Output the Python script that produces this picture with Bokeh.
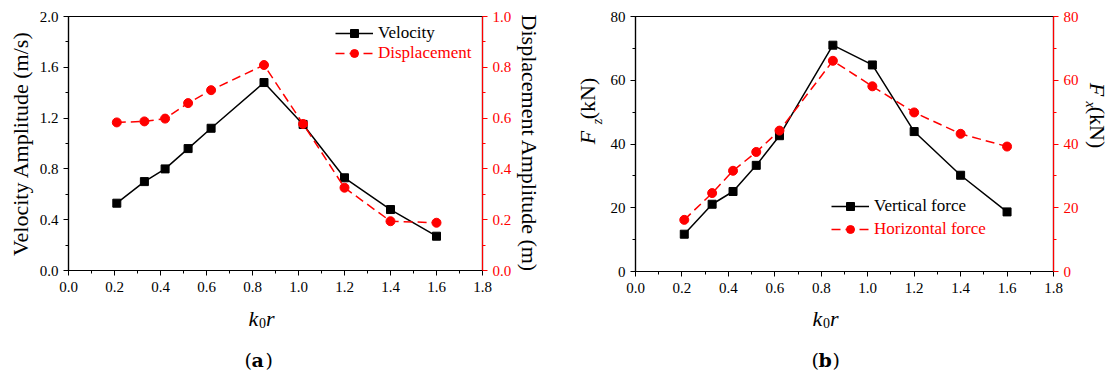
from bokeh.plotting import figure
from bokeh.models import (Range1d, LinearAxis, FixedTicker, NumeralTickFormatter,
                          Label, Legend, LegendItem)
from bokeh.layouts import row, column
from bokeh.embed import file_html
from bokeh.resources import INLINE
import math

# ---------------- data ----------------
k0r = [0.21, 0.33, 0.42, 0.52, 0.62, 0.85, 1.02, 1.20, 1.40, 1.60]
velocity = [0.53, 0.70, 0.80, 0.96, 1.12, 1.48, 1.15, 0.73, 0.48, 0.27]
displacement = [0.583, 0.587, 0.598, 0.659, 0.710, 0.809, 0.577, 0.326, 0.194, 0.188]
vertical_force = [11.7, 21.1, 25.1, 33.3, 42.6, 71.0, 64.8, 43.9, 30.2, 18.7]
horizontal_force = [16.2, 24.6, 31.6, 37.5, 44.2, 66.1, 58.1, 49.9, 43.2, 39.2]

x_ticks = [0.0, 0.2, 0.4, 0.6, 0.8, 1.0, 1.2, 1.4, 1.6, 1.8]
x_minor = [0.1, 0.3, 0.5, 0.7, 0.9, 1.1, 1.3, 1.5, 1.7]
vel_ticks = [0.0, 0.4, 0.8, 1.2, 1.6, 2.0]
vel_minor = [0.2, 0.6, 1.0, 1.4, 1.8]
disp_ticks = [0.0, 0.2, 0.4, 0.6, 0.8, 1.0]
disp_minor = [0.1, 0.3, 0.5, 0.7, 0.9]
force_ticks = [0, 20, 40, 60, 80]
force_minor = [10, 30, 50, 70]

FONT = "Liberation Serif"
CAP_FONT = "DejaVu Serif"
RED = "#ff0000"
TOP_H = 299


def style_axis(ax, color, ticks, minor, fmt):
    ax.ticker = FixedTicker(ticks=ticks, minor_ticks=minor)
    ax.formatter = NumeralTickFormatter(format=fmt)
    ax.axis_line_color = color
    ax.axis_line_width = 1.2
    ax.major_tick_line_color = color
    ax.minor_tick_line_color = color
    ax.major_tick_out = 5
    ax.major_tick_in = 0
    ax.minor_tick_out = 3
    ax.minor_tick_in = 0
    ax.major_label_text_color = color
    ax.major_label_text_font = FONT
    ax.major_label_text_font_size = "15px"
    ax.major_label_standoff = 5
    ax.axis_label_text_font = FONT
    ax.axis_label_text_font_size = "22px"
    ax.axis_label_text_font_style = "normal"
    ax.axis_label_text_color = "black"


def make_fig(fw, fh, bl, br, bt, bb, y_end, y_ticks, y_minor, y_fmt,
             r_end, r_ticks, r_minor, r_fmt):
    p = figure(frame_width=fw, frame_height=fh,
               min_border_left=bl, min_border_right=br,
               min_border_top=bt, min_border_bottom=bb,
               x_range=Range1d(0, 1.8), y_range=Range1d(0, y_end),
               output_backend="svg", toolbar_location=None, title=None)
    p.extra_y_ranges = {"right": Range1d(0, r_end)}
    p.grid.visible = False
    p.outline_line_color = "black"
    p.outline_line_width = 1.2
    p.background_fill_color = "white"
    p.border_fill_color = "white"
    style_axis(p.xaxis[0], "black", x_ticks, x_minor, "0.0")
    p.xaxis[0].major_label_standoff = 6
    style_axis(p.yaxis[0], "black", y_ticks, y_minor, y_fmt)
    rax = LinearAxis(y_range_name="right")
    style_axis(rax, RED, r_ticks, r_minor, r_fmt)
    p.add_layout(rax, "right")
    return p


def text_fig(w, h):
    f = figure(width=w, height=h, min_border=0, x_axis_location=None,
               y_axis_location=None, output_backend="svg",
               toolbar_location=None, title=None)
    f.grid.visible = False
    f.outline_line_color = None
    f.background_fill_color = "white"
    f.border_fill_color = "white"
    return f


def lab(p, x, y, text, size="22px", style="normal", angle=0.0, font=FONT,
        color="black", align="center", baseline="middle"):
    p.add_layout(Label(x=x, y=y, x_units="screen", y_units="screen", text=text,
                       angle=angle, text_font=font, text_font_size=size,
                       text_font_style=style, text_color=color,
                       text_align=align, text_baseline=baseline))


def legend(p, label, renderers, color, x, y):
    leg = Legend(items=[LegendItem(label=label, renderers=renderers)],
                 location=(x, y))
    leg.label_text_font = FONT
    leg.label_text_font_size = "17px"
    leg.label_text_color = color
    leg.glyph_width = 38
    leg.glyph_height = 20
    leg.label_height = 20
    leg.label_standoff = 5
    leg.padding = 0
    leg.margin = 0
    leg.spacing = 0
    leg.border_line_alpha = 0
    leg.background_fill_alpha = 0
    p.add_layout(leg)


# ---------------- panel (a) ----------------
p1 = make_fig(414, 254, 68, 73, 16, 29, 2.0, vel_ticks, vel_minor, "0.0",
              1.0, disp_ticks, disp_minor, "0.0")
p1.yaxis[0].axis_label = "Velocity Amplitude (m/s)"
p1.yaxis[0].axis_label_standoff = 4
p1.yaxis[1].axis_label = "Displacement Amplitude (m)"
p1.yaxis[1].axis_label_standoff = 3
l1 = p1.line(k0r, velocity, line_color="black", line_width=1.5)
s1 = p1.scatter(k0r, velocity, marker="square", size=8, color="black")
l2 = p1.line(k0r, displacement, line_color=RED, line_width=1.5,
             line_dash="9 5", y_range_name="right")
s2 = p1.scatter(k0r, displacement, marker="circle", size=9, color=RED,
                y_range_name="right")
legend(p1, "Velocity", [l1, s1], "black", 267, 227)
legend(p1, "Displacement", [l2, s2], RED, 267, 207)

# ---------------- F_z label strip ----------------
fz = text_fig(52, TOP_H)
lab(fz, 32, 133, "F", style="italic", angle=math.pi / 2)
lab(fz, 42, 149, "z", size="14px", style="italic", angle=math.pi / 2)
lab(fz, 32, 172, "(kN)", angle=math.pi / 2)

# ---------------- panel (b) ----------------
p2 = make_fig(418, 255, 27, 28, 15, 29, 80, force_ticks, force_minor, "0",
              80, force_ticks, force_minor, "0")
l3 = p2.line(k0r, vertical_force, line_color="black", line_width=1.5)
s3 = p2.scatter(k0r, vertical_force, marker="square", size=8, color="black")
l4 = p2.line(k0r, horizontal_force, line_color=RED, line_width=1.5,
             line_dash="9 5", y_range_name="right")
s4 = p2.scatter(k0r, horizontal_force, marker="circle", size=9, color=RED,
                y_range_name="right")
legend(p2, "Vertical force", [l3, s3], "black", 196, 55)
legend(p2, "Horizontal force", [l4, s4], RED, 196, 32)

# ---------------- F_x label strip ----------------
fx = text_fig(28, TOP_H)
lab(fx, 16, 181, "F", style="italic", angle=-math.pi / 2)
lab(fx, 9, 166, "x", size="14px", style="italic", angle=-math.pi / 2)
lab(fx, 16, 143, "(kN)", angle=-math.pi / 2)

# ---------------- bottom strip: x labels and captions ----------------
bottom = text_fig(1108, 73)
for x0 in (248, 812):
    lab(bottom, x0, 54, "k", style="italic", align="left", baseline="alphabetic")
    lab(bottom, x0 + 10.5, 50, "0", size="14px", align="left", baseline="alphabetic")
    lab(bottom, x0 + 17.5, 54, "r", style="italic", align="left", baseline="alphabetic")
for x0, letter in ((244, "a"), (811, "b")):
    lab(bottom, x0, 13, "(", size="19px", font=CAP_FONT, align="left", baseline="alphabetic")
    lab(bottom, x0 + 7, 13, letter, size="19px", style="bold", font=CAP_FONT,
        align="left", baseline="alphabetic")
    lab(bottom, x0 + 21, 13, ")", size="19px", font=CAP_FONT, align="left", baseline="alphabetic")

layout = column(row(p1, fz, p2, fx), bottom)
open("out.html", "w").write(file_html(layout, INLINE))
